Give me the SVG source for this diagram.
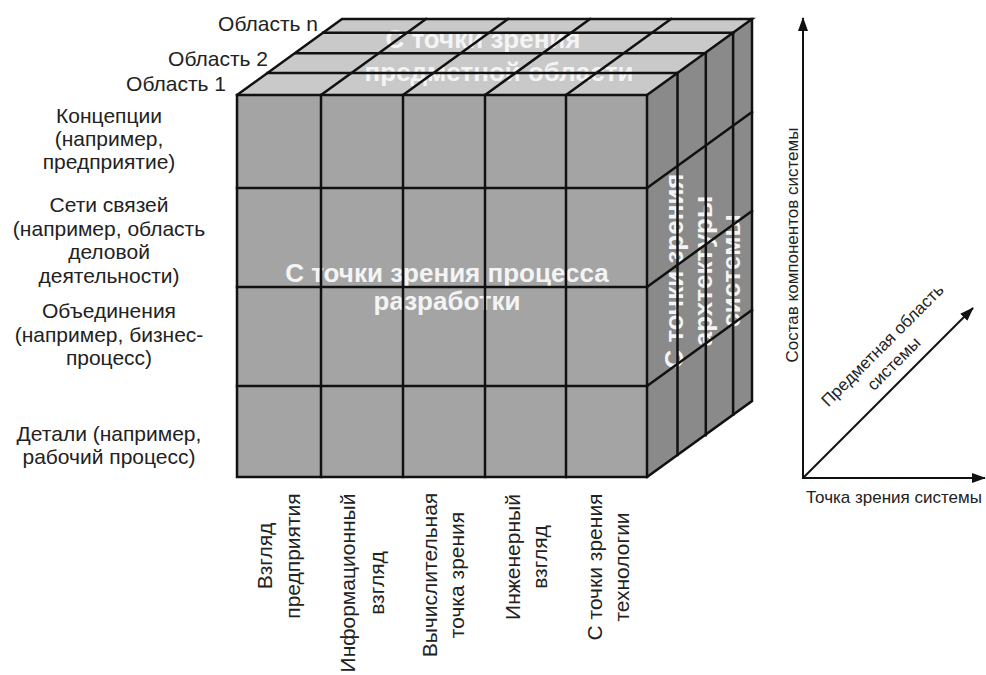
<svg xmlns="http://www.w3.org/2000/svg" width="986" height="675" viewBox="0 0 986 675">
<style>
.lbl{font-family:"Liberation Sans",Arial,sans-serif;font-size:21px;fill:#222}
.ax{font-family:"Liberation Sans",Arial,sans-serif;font-size:17px;fill:#222}
.big{font-family:"Liberation Sans",Arial,sans-serif;font-size:26px;font-weight:bold;fill:#f4f4f4}
.grid{stroke:#111;stroke-width:2.5;fill:none;stroke-linecap:square}
.axis{stroke:#111;stroke-width:2;fill:none}
</style>
<defs>
<marker id="arr" viewBox="0 0 14 10" refX="13" refY="5" markerWidth="14" markerHeight="10" markerUnits="userSpaceOnUse" orient="auto">
<path d="M0,0 L14,5 L0,10 z" fill="#111"/>
</marker>
</defs>
<rect width="986" height="675" fill="#fff"/>

<g id="cube">
  <g id="top-face">
    <polygon points="237,95 342,19 752,19 647,95" fill="#c9c9c9"/>
  </g>
  <g id="right-face">
    <polygon points="647,95 752,19 752,401 647,477" fill="#8a8a8a"/>
  </g>
  <g id="front-face">
    <rect x="237" y="95" width="410" height="382" fill="#a4a4a4"/>
  </g>
  <g id="face-labels">
    <text class="big" x="483" y="48" text-anchor="middle">С точки зрения</text>
    <text class="big" x="499" y="81" text-anchor="middle">предметной области</text>
    <text class="big" x="447" y="282" text-anchor="middle">С точки зрения процесса</text>
    <text class="big" x="447" y="310" text-anchor="middle">разработки</text>
    <text class="big" transform="translate(683,271) rotate(-90)" text-anchor="middle">С точки зрения</text>
    <text class="big" transform="translate(712,271) rotate(-90)" text-anchor="middle">архтектуры</text>
    <text class="big" transform="translate(740,271) rotate(-90)" text-anchor="middle">системы</text>
  </g>
  <g id="grid" class="grid">
    <rect x="237" y="95" width="410" height="382"/>
    <path d="M321,95V477M403,95V477M485,95V477M566,95V477"/>
    <path d="M237,188H647M237,287H647M237,386H647"/>
    <path d="M237,95L342,19H752L647,95"/>
    <path d="M267.5,73H677.5M295.8,53.2H705.8M323.1,32.7H733.1"/>
    <path d="M321,95L426,19M403,95L508,19M485,95L590,19M566,95L671,19"/>
    <path d="M752,19V401L647,477"/>
    <path d="M677.5,73V455M705.8,53.2V435.2M733.1,32.7V414.7"/>
    <path d="M647,188L752,112M647,287L752,211M647,386L752,310"/>
  </g>
</g>

<g id="layer-labels" class="lbl" text-anchor="end">
  <text x="318" y="31">Область n</text>
  <text x="268" y="66">Область 2</text>
  <text x="226" y="91">Область 1</text>
</g>

<g id="row-labels" class="lbl" text-anchor="middle">
  <g id="row-concepts">
    <text x="109" y="123">Концепции</text>
    <text x="109" y="146">(например,</text>
    <text x="109" y="169">предприятие)</text>
  </g>
  <g id="row-networks">
    <text x="109" y="212">Сети связей</text>
    <text x="109" y="235.5">(например, область</text>
    <text x="109" y="259">деловой</text>
    <text x="109" y="282.5">деятельности)</text>
  </g>
  <g id="row-unions">
    <text x="109" y="318">Объединения</text>
    <text x="109" y="341.5">(например, бизнес-</text>
    <text x="109" y="365">процесс)</text>
  </g>
  <g id="row-details">
    <text x="109" y="441">Детали (например,</text>
    <text x="109" y="464">рабочий процесс)</text>
  </g>
</g>

<g id="column-labels" class="lbl" text-anchor="middle">
  <g id="col-enterprise">
    <text transform="translate(272,556) rotate(-90)">Взгляд</text>
    <text transform="translate(300,556) rotate(-90)">предприятия</text>
  </g>
  <g id="col-information">
    <text transform="translate(355,583) rotate(-90)">Информационный</text>
    <text transform="translate(384,583) rotate(-90)">взгляд</text>
  </g>
  <g id="col-computational">
    <text transform="translate(437,575) rotate(-90)">Вычислительная</text>
    <text transform="translate(464,575) rotate(-90)">точка зрения</text>
  </g>
  <g id="col-engineering">
    <text transform="translate(520,557) rotate(-90)">Инженерный</text>
    <text transform="translate(547,557) rotate(-90)">взгляд</text>
  </g>
  <g id="col-technology">
    <text transform="translate(602,567) rotate(-90)">С точки зрения</text>
    <text transform="translate(629,567) rotate(-90)">технологии</text>
  </g>
</g>

<g id="connectors">
  <line class="axis" x1="803" y1="479" x2="803" y2="18" marker-end="url(#arr)"/>
  <line class="axis" x1="802" y1="478" x2="985" y2="478" marker-end="url(#arr)"/>
  <line class="axis" x1="803" y1="478" x2="973" y2="308" marker-end="url(#arr)"/>
</g>

<g id="axis-labels" class="ax">
  <text x="894" y="503" text-anchor="middle">Точка зрения системы</text>
  <text transform="translate(798,245) rotate(-90)" text-anchor="middle">Состав компонентов системы</text>
  <g transform="translate(803,478) rotate(-45)" text-anchor="middle">
    <text x="150" y="-32">Предметная область</text>
    <text x="145" y="-11">системы</text>
  </g>
</g>
</svg>
